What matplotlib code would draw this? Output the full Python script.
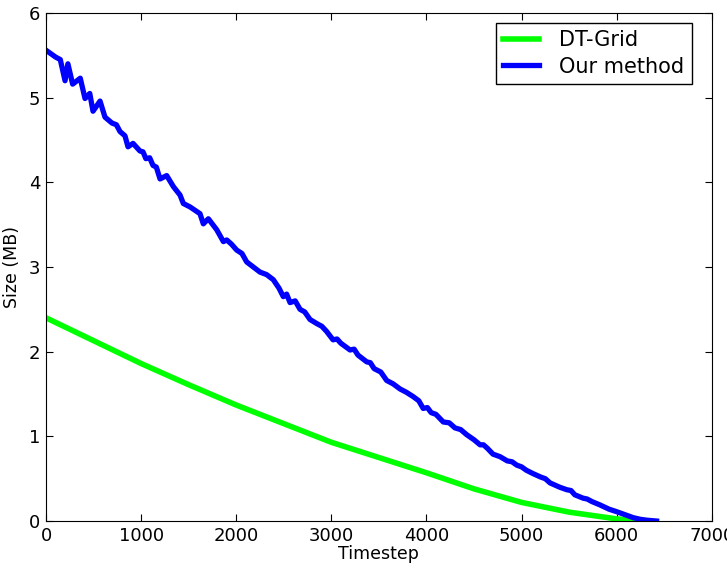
import matplotlib
matplotlib.use("Agg")
import matplotlib.pyplot as plt

# DT-Grid
dt_x = [0, 500, 1000, 1500, 2000, 2500, 3000, 3500, 4000, 4500, 5000, 5500, 6000, 6280]
dt_y = [2.40, 2.13, 1.86, 1.61, 1.37, 1.15, 0.93, 0.75, 0.57, 0.38, 0.22, 0.105, 0.025, 0.0]

# Our method
our_x = [0, 50, 100, 150, 200, 230, 280, 360, 410, 460, 494, 568, 620, 694, 740, 778,
         830, 862, 915, 988, 1020, 1050, 1090, 1125, 1160, 1199, 1269, 1339, 1409, 1444,
         1514, 1619, 1654, 1707, 1795, 1865, 1900, 1950, 2005, 2060, 2110, 2180, 2250,
         2320, 2390, 2450, 2495, 2530, 2566, 2620, 2671, 2720, 2776, 2850, 2900, 2950,
         3018, 3060, 3100, 3197, 3240, 3280, 3372, 3410, 3450, 3520, 3582, 3650, 3722,
         3790, 3860, 3920, 3966, 4010, 4050, 4100, 4177, 4240, 4300, 4360, 4423, 4500,
         4564, 4600, 4640, 4700, 4774, 4850, 4900, 4950, 5000, 5050, 5121, 5200, 5250,
         5300, 5400, 5475, 5520, 5560, 5647, 5690, 5740, 5825, 5920, 6001, 6100, 6173,
         6250, 6316, 6420]
our_y = [5.56, 5.52, 5.48, 5.45, 5.20, 5.40, 5.16, 5.23, 4.99, 5.05, 4.84, 4.96, 4.77,
         4.70, 4.68, 4.60, 4.55, 4.42, 4.46, 4.37, 4.36, 4.28, 4.29, 4.20, 4.18, 4.04,
         4.08, 3.95, 3.85, 3.75, 3.71, 3.63, 3.51, 3.57, 3.44, 3.30, 3.32, 3.27, 3.20,
         3.16, 3.06, 3.00, 2.94, 2.91, 2.85, 2.75, 2.65, 2.68, 2.58, 2.60, 2.50, 2.47,
         2.38, 2.33, 2.30, 2.24, 2.14, 2.15, 2.10, 2.02, 2.03, 1.96, 1.88, 1.87, 1.80,
         1.76, 1.66, 1.62, 1.56, 1.52, 1.47, 1.42, 1.33, 1.34, 1.28, 1.26, 1.17, 1.16,
         1.10, 1.08, 1.02, 0.96, 0.90, 0.90, 0.86, 0.79, 0.76, 0.71, 0.70, 0.66, 0.64,
         0.60, 0.56, 0.52, 0.50, 0.45, 0.40, 0.37, 0.36, 0.31, 0.27, 0.26, 0.23, 0.19,
         0.14, 0.11, 0.07, 0.04, 0.02, 0.01, 0.0]

xticks = [0, 1000, 2000, 3000, 4000, 5000, 6000, 7000]
yticks = [0, 1, 2, 3, 4, 5, 6]

fig = plt.figure(figsize=(7.27, 5.68), dpi=100)
ax = fig.add_axes([0.0633, 0.0827, 0.9157, 0.8944])
ax.plot(dt_x, dt_y, color="#00ff00", lw=4, label="DT-Grid")
ax.plot(our_x, our_y, color="#0000ff", lw=3.8, label="Our method")
ax.set_xlim(0, 7000)
ax.set_ylim(0, 6)
ax.set_xticks(xticks)
ax.set_yticks(yticks)
ax.tick_params(direction="in", top=True, right=True, labelsize=13, length=5, pad=4)
ax.set_xlabel("Timestep", fontsize=12.5, labelpad=0)
ax.set_ylabel("Size (MB)", fontsize=12.5, labelpad=6)
leg = ax.legend(loc="upper right", bbox_to_anchor=(0.97, 0.98), borderaxespad=0,
                fontsize=15, fancybox=False, edgecolor="black", framealpha=1,
                borderpad=0.35, handlelength=1.7, handletextpad=1.0, labelspacing=0.3)
leg.get_frame().set_linewidth(1.0)
fig.savefig("out.png", dpi=100)
